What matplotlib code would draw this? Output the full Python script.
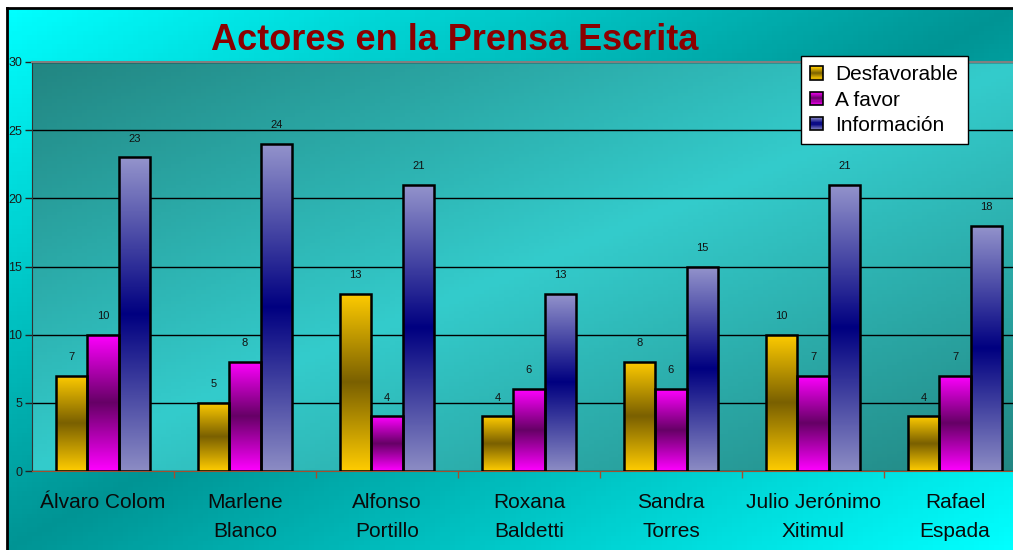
import numpy as np
import matplotlib
matplotlib.use('Agg')
import matplotlib.pyplot as plt
from matplotlib.colors import LinearSegmentedColormap
from matplotlib.patches import Rectangle
from matplotlib.legend_handler import HandlerBase

plt.rcParams['font.family'] = ['Liberation Sans', 'DejaVu Sans']

# data
actores = ['Álvaro Colom', 'Marlene\nBlanco', 'Alfonso\nPortillo', 'Roxana\nBaldetti',
           'Sandra\nTorres', 'Julio Jerónimo\nXitimul', 'Rafael\nEspada']
desfavorable = [7, 5, 13, 4, 8, 10, 4]
a_favor = [10, 8, 4, 6, 6, 7, 7]
informacion = [23, 24, 21, 13, 15, 21, 18]
series_names = ['Desfavorable', 'A favor', 'Información']

# gradient colormaps: light ends, dark middle
cm_yel = LinearSegmentedColormap.from_list('yel', ['#ffcc00', '#7a6000', '#ffcc00'])
cm_mag = LinearSegmentedColormap.from_list('mag', ['#ff00ff', '#660066', '#ff00ff'])
cm_blu = LinearSegmentedColormap.from_list('blu', ['#8c8cc4', '#000080', '#9494cc'])
cmaps = [cm_yel, cm_mag, cm_blu]

W, H = 1013, 550
fig = plt.figure(figsize=(W / 100, H / 100), dpi=100)
fig.patch.set_facecolor('white')

# outer background with diagonal gradient cyan -> teal -> cyan
bg = fig.add_axes([7 / W, 0, 1 - 7 / W, 542 / H], zorder=-10)
xx, yy = np.meshgrid(np.linspace(0, 1, 200), np.linspace(0, 1, 120))
s = (xx + yy) / 2
bg_cmap = LinearSegmentedColormap.from_list('bg', ['#00ffff', '#009494', '#00ffff'])
bg.imshow(s, cmap=bg_cmap, extent=(0, 1, 0, 1), aspect='auto', origin='upper')
bg.set_xticks([])
bg.set_yticks([])
for sp in ['right', 'bottom']:
    bg.spines[sp].set_visible(False)
bg.spines['left'].set_linewidth(2)
bg.spines['top'].set_linewidth(2)

# plot area
ax = fig.add_axes([32 / W, (H - 471) / H, 994 / W, (471 - 62) / H])
pa_cmap = LinearSegmentedColormap.from_list('pa', ['#228682', '#34cccc', '#228682'])
ax.imshow(s, cmap=pa_cmap, extent=(0, 1, 0, 1), aspect='auto', origin='upper',
          transform=ax.transAxes, zorder=-1)

x = np.arange(len(actores))
w = 0.22
grad = np.linspace(0, 1, 256).reshape(-1, 1)
for i, (vals, cm) in enumerate(zip([desfavorable, a_favor, informacion], cmaps)):
    bars = ax.bar(x + (i - 1) * w, vals, w, facecolor='none', edgecolor='black',
                  linewidth=1.8, zorder=3)
    for b, v in zip(bars, vals):
        im = ax.imshow(grad, cmap=cm, aspect='auto', origin='lower',
                       extent=(b.get_x(), b.get_x() + b.get_width(), 0, v), zorder=2)
        im.set_clip_path(b)
        ax.annotate(str(v), (b.get_x() + b.get_width() / 2, v), xytext=(0, 10),
                    textcoords='offset points', ha='center', va='bottom',
                    fontsize=8, color='#111111')

ax.set_xlim(-0.5, len(actores) - 0.5)
ax.set_ylim(0, 30)
ax.set_yticks(range(0, 31, 5))
ax.set_axisbelow(True)
ax.yaxis.grid(True, color='black', linewidth=1)
ax.tick_params(axis='y', labelsize=9, length=5, width=1, pad=2, color='#222222',
               labelcolor='#1a1a1a')
ax.set_xticks(x)
ax.set_xticklabels(actores, fontsize=15, linespacing=1.72)
ax.tick_params(axis='x', length=0, pad=15.5, labelcolor='#0a0a0a')
ax.set_xticks(np.arange(0.5, len(actores) - 0.5), minor=True)
ax.tick_params(axis='x', which='minor', length=5, color='#a05030', width=1)
ax.spines['bottom'].set_color('#a05030')
ax.spines['top'].set_color('#808080')
ax.spines['top'].set_linewidth(1.5)
ax.spines['left'].set_color('#333333')
ax.spines['right'].set_visible(False)

fig.text(455 / W, 1 - 40 / H, 'Actores en la Prensa Escrita', ha='center', va='center',
         fontsize=26, fontweight='bold', color='#8b0000')


class GradHandle:
    def __init__(self, cmap):
        self.cmap = cmap


class GradHandler(HandlerBase):
    def create_artists(self, legend, orig_handle, xdescent, ydescent, width, height,
                       fontsize, trans):
        n = 12
        arts = []
        for k in range(n):
            arts.append(Rectangle((-xdescent, -ydescent + k * height / n), width, height / n,
                                  facecolor=orig_handle.cmap((k + 0.5) / n),
                                  edgecolor='none', transform=trans))
        arts.append(Rectangle((-xdescent, -ydescent), width, height, facecolor='none',
                              edgecolor='black', linewidth=1.2, transform=trans))
        return arts


handles = [GradHandle(c) for c in cmaps]
leg = fig.legend(handles, series_names, handler_map={h: GradHandler() for h in handles},
                 loc='upper left', bbox_to_anchor=(801 / W, 1 - 56 / H), fontsize=15,
                 frameon=True, fancybox=False, edgecolor='black', framealpha=1,
                 handlelength=0.6, handleheight=0.6, handletextpad=0.6,
                 labelspacing=0.3, borderpad=0.45, borderaxespad=0)
leg.get_frame().set_linewidth(1)

fig.savefig('out.png', dpi=100)
